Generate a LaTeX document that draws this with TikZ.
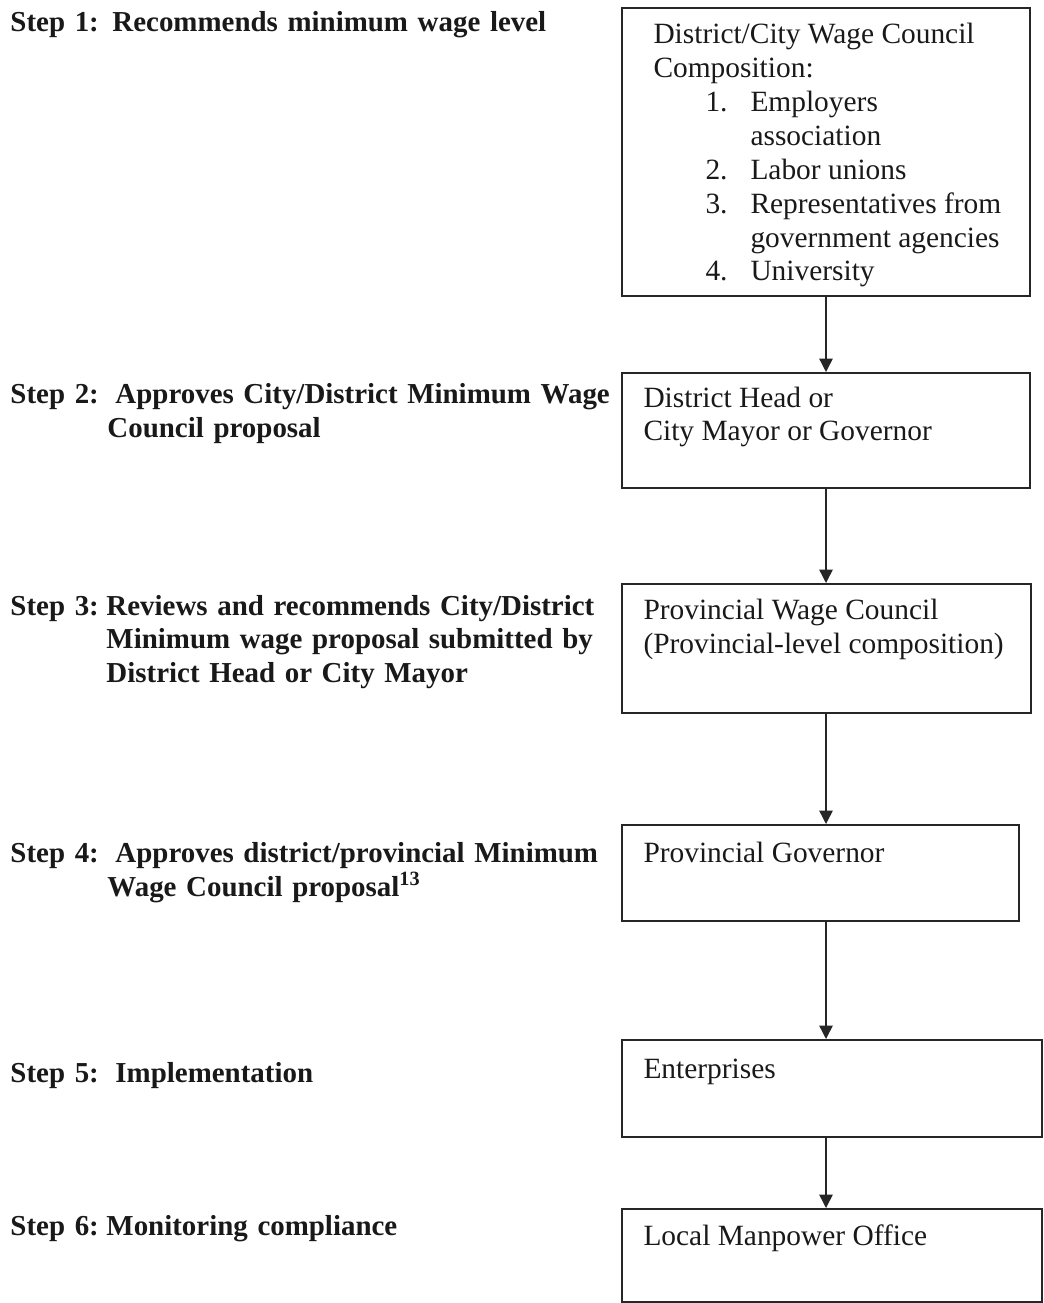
\documentclass[tikz,border=0pt]{standalone}
\usepackage{fontspec}
\setmainfont{Liberation Serif}
\usepackage{tikz}
\usetikzlibrary{arrows.meta}
\newlength{\px}
\setlength{\px}{0.408pt}
\tikzset{
  wagebox/.style 2 args = {draw=black!85,line width=0.8pt,anchor=north west,inner sep=0pt,
                           minimum width=#1\px,minimum height=#2\px},
  boxtxt/.style   = {anchor=base west,inner sep=0pt,align=left,text=black!90,
                     font=\fontsize{12pt}{13.87pt}\selectfont},
  steptxt/.style  = {anchor=base west,inner sep=0pt,text width=620\px,align=left,text=black!90,
                     font=\fontsize{11.8pt}{13.87pt}\selectfont\bfseries},
  flowarr/.style  = {-{Triangle[length=5.5pt,width=5.5pt]},line width=0.6pt,black!85}
}
\newcommand{\steplabel}[2]{\makebox[#1\px][l]{#2}}

\begin{document}
\begin{tikzpicture}[x=\px,y=-\px]
  \useasboundingbox (0,0) rectangle (1043,1303);
  \coordinate (spine) at (826,0);
  % boxes on the right
  \node[wagebox={408}{288}] (council)     at (621,7)    {};
  \node[wagebox={408}{115}] (head)        at (621,372)  {};
  \node[wagebox={409}{129}] (provcouncil) at (621,583)  {};
  \node[wagebox={397}{96}]  (governor)    at (621,824)  {};
  \node[wagebox={420}{97}]  (enterprises) at (621,1039) {};
  \node[wagebox={420}{93}]  (manpower)    at (621,1208) {};
  % box texts sit on the baseline of their last line
  \node[boxtxt] (councilTxt) at (653,281) {District/City Wage Council\\Composition:\\
    \hspace*{52\px}\makebox[45\px][l]{1.}Employers\\
    \hspace*{97\px}association\\
    \hspace*{52\px}\makebox[45\px][l]{2.}Labor unions\\
    \hspace*{52\px}\makebox[45\px][l]{3.}Representatives from\\
    \hspace*{97\px}government agencies\\
    \hspace*{52\px}\makebox[45\px][l]{4.}University};
  \node[boxtxt] (headTxt) at (643,441)  {District Head or\\City Mayor or Governor};
  \node[boxtxt] (provTxt) at (643,653)  {Provincial Wage Council\\(Provincial-level composition)};
  \node[boxtxt] (govTxt)  at (643,862)  {Provincial Governor};
  \node[boxtxt] (entTxt)  at (643,1078) {Enterprises};
  \node[boxtxt] (manTxt)  at (643,1245) {Local Manpower Office};
  % arrows
  \draw[flowarr] (council.south -| spine)     -- (head.north -| spine);
  \draw[flowarr] (head.south -| spine)        -- (provcouncil.north -| spine);
  \draw[flowarr] (provcouncil.south -| spine) -- (governor.north -| spine);
  \draw[flowarr] (governor.south -| spine)    -- (enterprises.north -| spine);
  \draw[flowarr] (enterprises.south -| spine) -- (manpower.north -| spine);
  % steps on the left
  \node[steptxt] (step1) at (10,32)  {\steplabel{102}{Step 1:}Recommends minimum wage level};
  \node[steptxt] (step2) at (10,404) {\steplabel{105}{Step 2:}Approves City/District Minimum Wage\\
    \hspace*{97\px}Council proposal};
  \node[steptxt] (step3) at (10,615) {\steplabel{96}{Step 3:}Reviews and recommends City/District\\
    \hspace*{96\px}Minimum wage proposal submitted by\\
    \hspace*{96\px}District Head or City Mayor};
  \node[steptxt] (step4) at (10,862) {\steplabel{105}{Step 4:}Approves district/provincial Minimum\\
    \hspace*{97\px}Wage Council proposal\textsuperscript{13}};
  \node[steptxt] (step5) at (10,1082) {\steplabel{105}{Step 5:}Implementation};
  \node[steptxt] (step6) at (10,1235) {\steplabel{96}{Step 6:}Monitoring compliance};
\end{tikzpicture}
\end{document}
